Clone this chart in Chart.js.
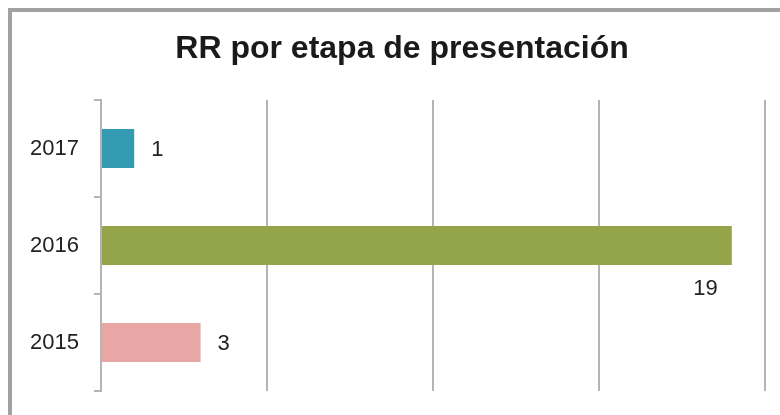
<!DOCTYPE html>
<html>
<head>
<meta charset="utf-8">
<script src="https://cdn.jsdelivr.net/npm/chart.js@4/dist/chart.umd.min.js"></script>
<style>
  html, body { margin: 0; padding: 0; background: #fff; }
  #wrap { width: 780px; height: 415px; }
</style>
</head>
<body>
<div id="wrap"><canvas id="myChart"></canvas></div>
<script>
// Datos del gráfico
const titleText = 'RR por etapa de presentación';
const years = ['2017', '2016', '2015'];
const rrValues = [1, 19, 3];
const barColors = ['#349bb3', '#93a548', '#e8a7a4'];
const xTicks = [0, 5, 10, 15, 20];

const gridGray = '#b4b4b6';
const fontFamily = '"Liberation Sans", Arial, sans-serif';

// Marco gris arriba y a la izquierda + título (centrado en el marco, no en el lienzo)
const framePlugin = {
    id: 'frame',
    beforeDraw(chart) {
        const c = chart.ctx;
        c.save();
        c.strokeStyle = '#a0a1a3';
        c.lineWidth = 4;
        c.beginPath();
        c.moveTo(10, chart.height);
        c.lineTo(10, 10);
        c.lineTo(chart.width, 10);
        c.stroke();

        c.fillStyle = '#1a1a1a';
        c.font = 'bold 32px ' + fontFamily;
        c.textAlign = 'center';
        c.textBaseline = 'middle';
        c.fillText(titleText, 402, 49);
        c.restore();
    }
};

// Etiquetas de valor junto a cada barra
const valueLabels = {
    id: 'valueLabels',
    afterDatasetsDraw(chart) {
        const c = chart.ctx;
        const area = chart.chartArea;
        const meta = chart.getDatasetMeta(0);
        c.save();
        c.font = '22px ' + fontFamily;
        c.fillStyle = '#222';
        c.textBaseline = 'middle';
        meta.data.forEach((bar, i) => {
            const txt = String(rrValues[i]);
            const w = c.measureText(txt).width;
            if (bar.x + 17 + w > area.right - 10) {
                // no cabe a la derecha: debajo de la barra
                c.textAlign = 'right';
                c.fillText(txt, bar.x - 14, bar.y + bar.height / 2 + 24);
            } else {
                c.textAlign = 'left';
                c.fillText(txt, bar.x + 17, bar.y + 1);
            }
        });
        c.restore();
    }
};

const ctx = document.getElementById('myChart').getContext('2d');
const myChart = new Chart(ctx, {
    type: 'bar',
    data: {
        labels: years,
        datasets: [{
            data: rrValues,
            backgroundColor: barColors,
            borderWidth: 0,
            categoryPercentage: 0.8,
            barPercentage: 0.5
        }]
    },
    options: {
        indexAxis: 'y',
        responsive: true,
        maintainAspectRatio: false,
        animation: false,
        layout: { padding: { left: 0, right: 15, top: 100, bottom: 0 } },
        plugins: {
            legend: { display: false },
            tooltip: { enabled: false },
            title: { display: false }
        },
        scales: {
            x: {
                min: xTicks[0],
                max: xTicks[xTicks.length - 1],
                afterBuildTicks(scale) {
                    scale.ticks = xTicks.map(v => ({ value: v }));
                },
                afterFit(scale) { scale.height = 24; },
                ticks: { display: false },
                grid: { color: gridGray, lineWidth: 2, drawTicks: false },
                border: { display: false }
            },
            y: {
                afterFit(scale) {
                    scale.width = 101;
                    scale.paddingTop = 0;
                    scale.paddingBottom = 0;
                },
                ticks: {
                    color: '#222',
                    padding: 15,
                    font: { family: fontFamily, size: 22 }
                },
                grid: {
                    offset: true,
                    drawOnChartArea: false,
                    drawTicks: true,
                    tickLength: 7,
                    color: gridGray,
                    lineWidth: 2
                },
                border: { display: true, color: gridGray, width: 2 }
            }
        }
    },
    plugins: [framePlugin, valueLabels]
});
</script>
</body>
</html>
